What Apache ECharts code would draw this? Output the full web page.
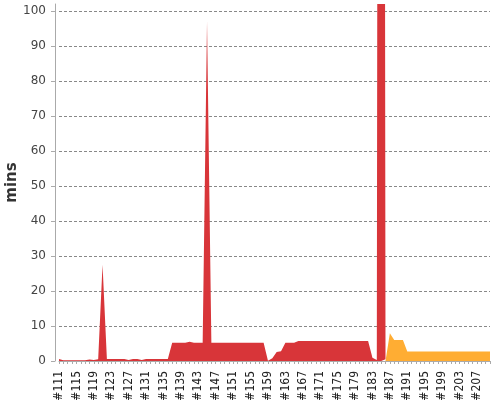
<!DOCTYPE html>
<html>
<head>
    <meta charset="UTF-8">
    <script src="https://cdn.jsdelivr.net/npm/echarts@6/dist/echarts.min.js"></script>
    <style>
        html, body { margin: 0; padding: 0; background: #fff; }
        #container { width: 500px; height: 400px; }
    </style>
</head>
<body>
<div id="container"></div>
<script type="text/javascript">
    // build numbers on the x axis (#111 .. #210)
    var firstBuild = 111;
    var lastBuild = 210;
    var builds = [];
    for (var b = firstBuild; b <= lastBuild; b++) {
        builds.push('#' + b);
    }

    // y axis ticks, minutes
    var yTicks = [0, 10, 20, 30, 40, 50, 60, 70, 80, 90, 100];

    // failed builds (red), #111 .. #186
    var failedMins = [
        0.6, 0.2, 0.2, 0.2, 0.2, 0.2, 0.2, 0.4, 0.3, 0.5,    // #111-#120
        27.5, 0.6, 0.6, 0.6, 0.6, 0.6, 0.3, 0.6, 0.6, 0.3,   // #121-#130
        0.6, 0.6, 0.6, 0.6, 0.6, 0.6, 5.2, 5.2, 5.2, 5.2,    // #131-#140
        5.5, 5.2, 5.2, 5.2, 97, 5.2, 5.2, 5.2, 5.2, 5.2,     // #141-#150
        5.2, 5.2, 5.2, 5.2, 5.2, 5.2, 5.2, 5.2, 0.1, 0.8,    // #151-#160
        2.6, 2.8, 5.2, 5.2, 5.2, 5.7, 5.7, 5.7, 5.7, 5.7,    // #161-#170
        5.7, 5.7, 5.7, 5.7, 5.7, 5.7, 5.7, 5.7, 5.7, 5.7,    // #171-#180
        5.7, 5.7, 0.9, 0.3, 1000, 0.5,                       // #181-#186
        null, null, null, null, null, null, null, null, null, null,
        null, null, null, null, null, null, null, null, null, null,
        null, null, null, null
    ];

    // unstable builds (orange), #186 .. #210
    var unstableMins = [
        null, null, null, null, null, null, null, null, null, null,
        null, null, null, null, null, null, null, null, null, null,
        null, null, null, null, null, null, null, null, null, null,
        null, null, null, null, null, null, null, null, null, null,
        null, null, null, null, null, null, null, null, null, null,
        null, null, null, null, null, null, null, null, null, null,
        null, null, null, null, null, null, null, null, null, null,
        null, null, null, null, null,
        0, 7.9, 6.0, 6.0, 6.0,                               // #186-#190
        2.7, 2.7, 2.7, 2.7, 2.7, 2.7, 2.7, 2.7, 2.7, 2.7,    // #191-#200
        2.7, 2.7, 2.7, 2.7, 2.7, 2.7, 2.7, 2.7, 2.7, 2.7     // #201-#210
    ];

    var dom = document.getElementById('container');
    var myChart = echarts.init(dom, null, { renderer: 'canvas' });

    var option = {
        animation: false,
        grid: {
            left: 59,
            right: 10,
            top: 4,
            bottom: 39,
            containLabel: false,
            outerBoundsMode: 'none'
        },
        xAxis: {
            type: 'category',
            data: builds,
            boundaryGap: false,
            offset: 5,
            axisLine: { lineStyle: { color: '#aaa', width: 1 } },
            axisTick: {
                interval: 0,
                length: 3,
                lineStyle: { color: '#aaa' }
            },
            axisLabel: {
                interval: 3,
                rotate: 90,
                margin: 5,
                color: '#222',
                fontFamily: '"Liberation Sans Narrow", "DejaVu Sans Condensed", "DejaVu Sans"',
                fontSize: 12
            },
            splitLine: { show: false }
        },
        yAxis: {
            type: 'value',
            min: 0,
            max: 102,
            interval: 10,
            offset: 4,
            name: 'mins',
            nameLocation: 'middle',
            nameGap: 35,
            nameMoveOverlap: false,
            nameTextStyle: {
                color: '#333',
                fontWeight: 'bold',
                fontFamily: '"Liberation Sans Narrow", "DejaVu Sans"',
                fontSize: 15
            },
            axisLine: { show: true, lineStyle: { color: '#aaa', width: 1 } },
            axisTick: {
                show: true,
                length: 4,
                customValues: yTicks,
                lineStyle: { color: '#aaa' }
            },
            axisLabel: {
                customValues: yTicks,
                margin: 9,
                color: '#444',
                fontFamily: '"DejaVu Sans"',
                fontSize: 12
            },
            splitLine: {
                show: true,
                showMinLine: false,
                lineStyle: { color: '#888', type: [3, 2], width: 1 }
            }
        },
        series: [
            {
                name: 'failed',
                type: 'line',
                data: failedMins,
                showSymbol: false,
                symbol: 'none',
                clip: true,
                lineStyle: { width: 0 },
                areaStyle: { color: '#d83539', opacity: 1 }
            },
            {
                name: 'unstable',
                type: 'line',
                data: unstableMins,
                showSymbol: false,
                symbol: 'none',
                clip: true,
                lineStyle: { width: 0 },
                areaStyle: { color: '#ffad33', opacity: 1 }
            }
        ]
    };

    myChart.setOption(option);
    window.addEventListener('resize', myChart.resize);
</script>
</body>
</html>
